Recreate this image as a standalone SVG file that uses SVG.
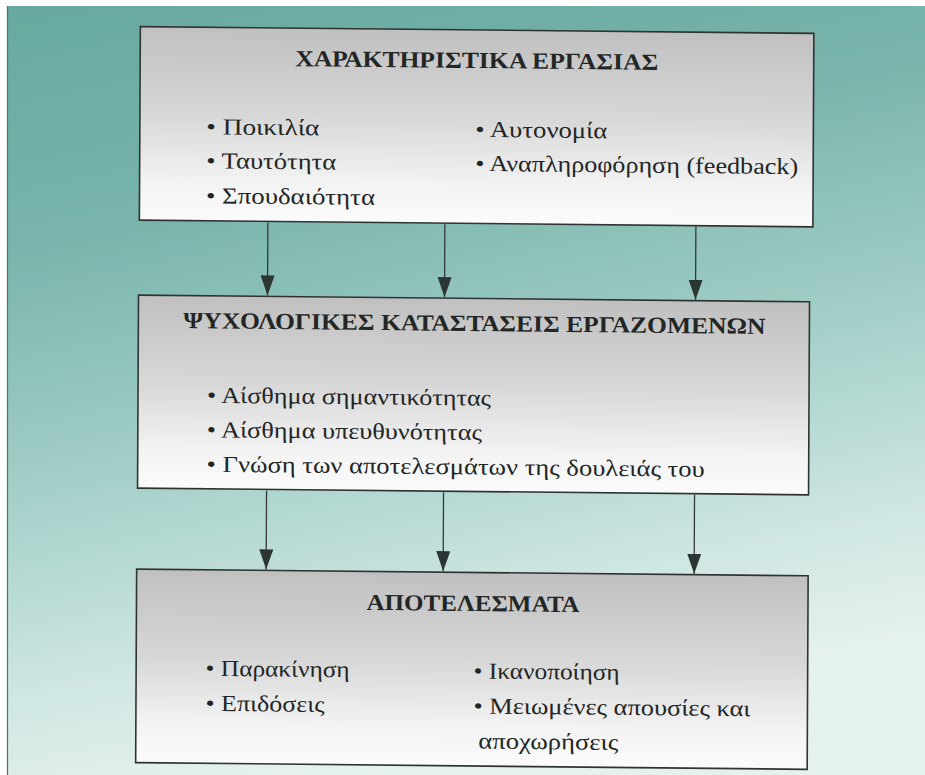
<svg xmlns="http://www.w3.org/2000/svg" width="925" height="775" viewBox="0 0 925 775">
  <defs>
    <linearGradient id="bg" x1="0" y1="0" x2="0.25" y2="1">
      <stop offset="0" stop-color="#66a89f"/>
      <stop offset="0.3" stop-color="#78b4ab"/>
      <stop offset="0.6" stop-color="#a3cfc8"/>
      <stop offset="0.85" stop-color="#cfe6e2"/>
      <stop offset="1" stop-color="#e4f1ee"/>
    </linearGradient>
    <linearGradient id="boxfill" x1="0" y1="0" x2="0" y2="1">
      <stop offset="0" stop-color="#c0c0c0"/>
      <stop offset="0.45" stop-color="#d7d7d7"/>
      <stop offset="0.8" stop-color="#f3f3f3"/>
      <stop offset="1" stop-color="#fbfbfb"/>
    </linearGradient>
    <marker id="ah" viewBox="0 0 20 14" refX="20" refY="7" markerWidth="20" markerHeight="14" markerUnits="userSpaceOnUse" orient="auto">
      <path d="M0,0 L20,7 L0,14 Z" fill="#2b3634"/>
    </marker>
    <style>
      .box { fill: url(#boxfill); stroke: #2f3433; stroke-width: 1.6; }
      .title { font-family: "Liberation Serif", "DejaVu Serif", serif; font-weight: bold; font-size: 23px; fill: #222625; text-anchor: middle; }
      .item { font-family: "Liberation Serif", "DejaVu Serif", serif; font-size: 23px; fill: #222625; }
      .conn { stroke: #333938; stroke-width: 1.3; fill: none; marker-end: url(#ah); }
    </style>
  </defs>

  <rect x="0" y="0" width="925" height="775" fill="url(#bg)"/>
  <rect x="0" y="0" width="925" height="6" fill="#ffffff"/>
  <rect x="0" y="0" width="7" height="775" fill="#ffffff"/>
  <line x1="7.5" y1="6" x2="7.5" y2="775" stroke="#3d7c74" stroke-width="1.2"/>

  <g transform="matrix(1 0.01 -0.005 1 2 -4.77)">
    <g id="node-characteristics">
      <rect class="box" x="138.5" y="30" width="673.5" height="193.5"/>
      <text class="title" x="475" y="68" textLength="363" lengthAdjust="spacingAndGlyphs">ΧΑΡΑΚΤΗΡΙΣΤΙΚΑ ΕΡΓΑΣΙΑΣ</text>
      <text class="item" x="205" y="137" textLength="113" lengthAdjust="spacingAndGlyphs">• Ποικιλία</text>
      <text class="item" x="205" y="171" textLength="130" lengthAdjust="spacingAndGlyphs">• Ταυτότητα</text>
      <text class="item" x="205" y="206" textLength="169" lengthAdjust="spacingAndGlyphs">• Σπουδαιότητα</text>
      <text class="item" x="474" y="137" textLength="132" lengthAdjust="spacingAndGlyphs">• Αυτονομία</text>
      <text class="item" x="474" y="171" textLength="323" lengthAdjust="spacingAndGlyphs">• Αναπληροφόρηση (feedback)</text>
    </g>

    <g id="node-psychological">
      <rect class="box" x="138" y="298.5" width="671" height="193"/>
      <text class="title" x="474" y="331" textLength="582" lengthAdjust="spacingAndGlyphs">ΨΥΧΟΛΟΓΙΚΕΣ ΚΑΤΑΣΤΑΣΕΙΣ ΕΡΓΑΖΟΜΕΝΩΝ</text>
      <text class="item" x="207" y="405.5" textLength="284" lengthAdjust="spacingAndGlyphs">• Αίσθημα σημαντικότητας</text>
      <text class="item" x="207" y="440" textLength="275" lengthAdjust="spacingAndGlyphs">• Αίσθημα υπευθυνότητας</text>
      <text class="item" x="207" y="474.5" textLength="498" lengthAdjust="spacingAndGlyphs">• Γνώση των αποτελεσμάτων της δουλειάς του</text>
    </g>

    <g id="node-outcomes">
      <rect class="box" x="137.5" y="572.5" width="671.5" height="193.5"/>
      <text class="title" x="474" y="611" textLength="213" lengthAdjust="spacingAndGlyphs">ΑΠΟΤΕΛΕΣΜΑΤΑ</text>
      <text class="item" x="207" y="678.5" textLength="144" lengthAdjust="spacingAndGlyphs">• Παρακίνηση</text>
      <text class="item" x="207" y="713.5" textLength="119" lengthAdjust="spacingAndGlyphs">• Επιδόσεις</text>
      <text class="item" x="475" y="678.5" textLength="146" lengthAdjust="spacingAndGlyphs">• Ικανοποίηση</text>
      <text class="item" x="475" y="713.5" textLength="277" lengthAdjust="spacingAndGlyphs">• Μειωμένες απουσίες και</text>
      <text class="item" x="480" y="748.5" textLength="140" lengthAdjust="spacingAndGlyphs">αποχωρήσεις</text>
    </g>

    <g id="connectors">
      <line class="conn" x1="267" y1="224.5" x2="267" y2="297.5"/>
      <line class="conn" x1="444" y1="224.5" x2="444" y2="297.5"/>
      <line class="conn" x1="695" y1="224.5" x2="695" y2="297.5"/>
      <line class="conn" x1="267" y1="492.5" x2="267" y2="571.5"/>
      <line class="conn" x1="444" y1="492.5" x2="444" y2="571.5"/>
      <line class="conn" x1="695" y1="492.5" x2="695" y2="571.5"/>
    </g>
  </g>
</svg>
